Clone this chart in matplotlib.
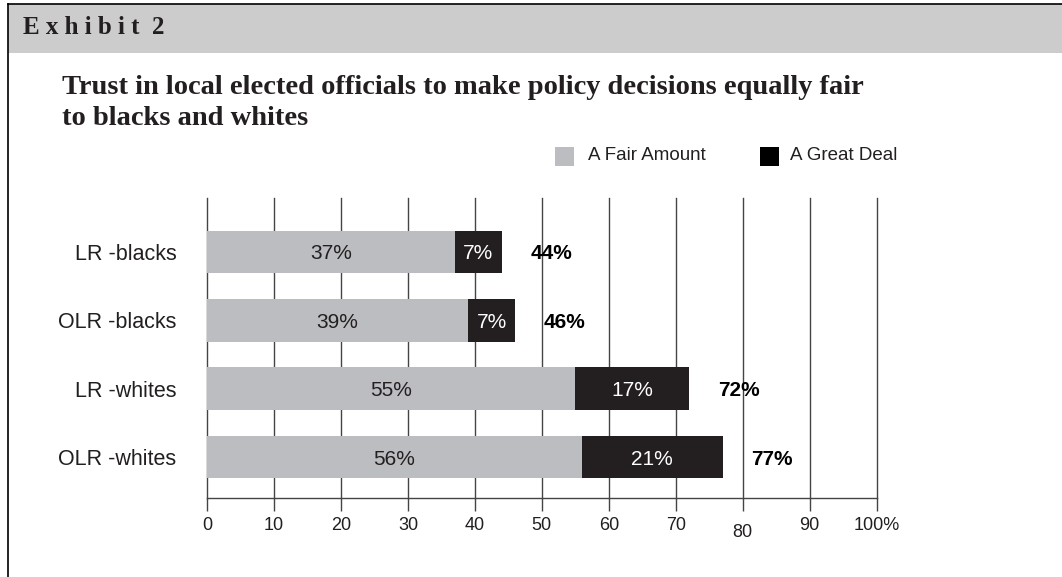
import matplotlib.pyplot as plt
from matplotlib.patches import Rectangle
from matplotlib.lines import Line2D
import matplotlib.transforms as mtransforms
import numpy as np

groups = ["LR -blacks", "OLR -blacks", "LR -whites", "OLR -whites"]
fair_amount = [37, 39, 55, 56]
great_deal = [7, 7, 17, 21]
totals = [44, 46, 72, 77]
xticks = [0, 10, 20, 30, 40, 50, 60, 70, 80, 90, 100]
xtick_labels = ["0", "10", "20", "30", "40", "50", "60", "70", "80", "90", "100%"]

gray = "#bcbdc0"
dark = "#231f20"
serif = ["Liberation Serif", "DejaVu Serif"]
sans = ["Liberation Sans", "DejaVu Sans"]

fig = plt.figure(figsize=(10.62, 5.77), dpi=100)
W, H = 1062, 577

# page frame and header band
fig.patches.append(Rectangle((8 / W, 1 - 53 / H), 1, 49 / H, transform=fig.transFigure,
                             facecolor="#cccccc", edgecolor="none", zorder=0))
fig.lines.append(Line2D([8 / W, 1], [1 - 4 / H, 1 - 4 / H], transform=fig.transFigure,
                        color="black", lw=1.2))
fig.lines.append(Line2D([8 / W, 8 / W], [0, 1 - 4 / H], transform=fig.transFigure,
                        color="black", lw=1.2))

fig.text(23 / W, 1 - 28 / H, "E x h i b i t  2", family=serif, fontweight="bold",
         fontsize=18, va="center", ha="left", color=dark)
fig.text(62 / W, 1 - 103 / H,
         "Trust in local elected officials to make policy decisions equally fair\nto blacks and whites",
         family=serif, fontweight="bold", fontsize=20.5, va="center", ha="left",
         color=dark, linespacing=1.3)

# legend squares
fig.patches.append(Rectangle((555 / W, 1 - 166 / H), 19 / W, 19 / H, transform=fig.transFigure,
                             facecolor=gray, edgecolor="none"))
fig.text(588 / W, 1 - 156 / H, "A Fair Amount", family=sans, fontsize=13.5, va="center", color=dark)
fig.patches.append(Rectangle((760 / W, 1 - 166 / H), 19 / W, 19 / H, transform=fig.transFigure,
                             facecolor="black", edgecolor="none"))
fig.text(790 / W, 1 - 156 / H, "A Great Deal", family=sans, fontsize=13.5, va="center", color=dark)

ax = fig.add_axes([207 / W, 1 - 497.7 / H, 669.7 / W, 299.7 / H])
y = np.arange(len(groups))
h = 0.62

ax.barh(y, fair_amount, height=h, color=gray, zorder=2)
ax.barh(y, great_deal, left=fair_amount, height=h, color=dark, zorder=2)

for i in range(len(groups)):
    ax.text(fair_amount[i] / 2, y[i], f"{fair_amount[i]}%", ha="center", va="center_baseline",
            family=sans, fontsize=15, color=dark, zorder=3)
    ax.text(fair_amount[i] + great_deal[i] / 2, y[i], f"{great_deal[i]}%", ha="center",
            va="center_baseline", family=sans, fontsize=15, color="white", zorder=3)
    ax.text(totals[i] + 7.4, y[i], f"{totals[i]}%", ha="center", va="center_baseline",
            family=sans, fontsize=15, fontweight="bold", color="black", zorder=3)

ax.set_xlim(0, 100)
ax.set_ylim(3.595, -0.79)
ax.set_yticks(y)
ax.set_yticklabels(groups, family=sans, fontsize=15.5, color=dark)
ax.tick_params(axis="y", length=0, pad=22)
ax.set_xticks(xticks)
ax.set_xticklabels(xtick_labels, family=sans, fontsize=13, color=dark)
ax.tick_params(axis="x", length=9, width=1, color="#444444", pad=5)
# the 80 label sits a little lower
lbl80 = ax.get_xticklabels()[8]
lbl80.set_transform(lbl80.get_transform() + mtransforms.ScaledTranslation(0, -5 / 72, fig.dpi_scale_trans))

for x in xticks:
    ax.axvline(x, color="#444444", lw=1, zorder=1, clip_on=False)

for s in ["top", "right", "left"]:
    ax.spines[s].set_visible(False)
ax.spines["bottom"].set_color("#444444")
ax.spines["bottom"].set_linewidth(1)

fig.savefig("out.png", dpi=100)
